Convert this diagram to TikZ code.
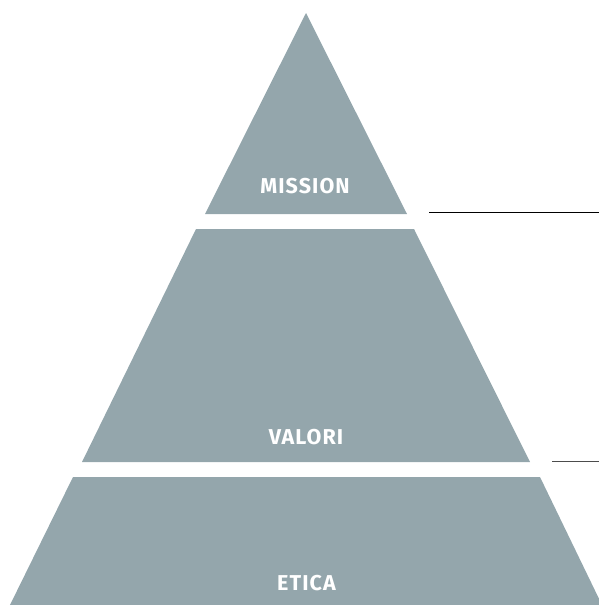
\documentclass[tikz,border=0pt]{standalone}
\usepackage{fontspec}
\setmainfont{Fira Sans}[LetterSpace=5]
\definecolor{layer}{HTML}{94A6AC}
\begin{document}
\begin{tikzpicture}[x=1pt,y=-1pt,
  layerfill/.style={fill=layer,draw=none},
  layerlabel/.style={text=white,font=\fontsize{21.5}{24}\selectfont\bfseries,inner sep=0pt,anchor=center},
  leader/.style={draw=black,line width=1pt}]
\useasboundingbox (0,0) rectangle (599,605);
% top triangle
\fill[layerfill] (306,13) -- (407,214) -- (205,214) -- cycle;
% middle trapezoid
\fill[layerfill] (196,229) -- (414,229) -- (530,462) -- (82,462) -- cycle;
% bottom trapezoid
\fill[layerfill] (73,477) -- (540,477) -- (603,607) -- (9,607) -- cycle;
% labels
\node[layerlabel] (mission) at (305,186) {MISSION};
\node[layerlabel] (valori) at (306,437) {VALORI};
\node[layerlabel] (etica) at (306.5,583) {ETICA};
% leader lines
\coordinate (l1a) at (429,212.5);
\coordinate (l1b) at (599,212.5);
\coordinate (l2a) at (552,461);
\coordinate (l2b) at (599,461);
\draw[leader] (l1a) -- (l1b);
\draw[leader,draw=black!70] (l2a) -- (l2b);
\end{tikzpicture}
\end{document}
